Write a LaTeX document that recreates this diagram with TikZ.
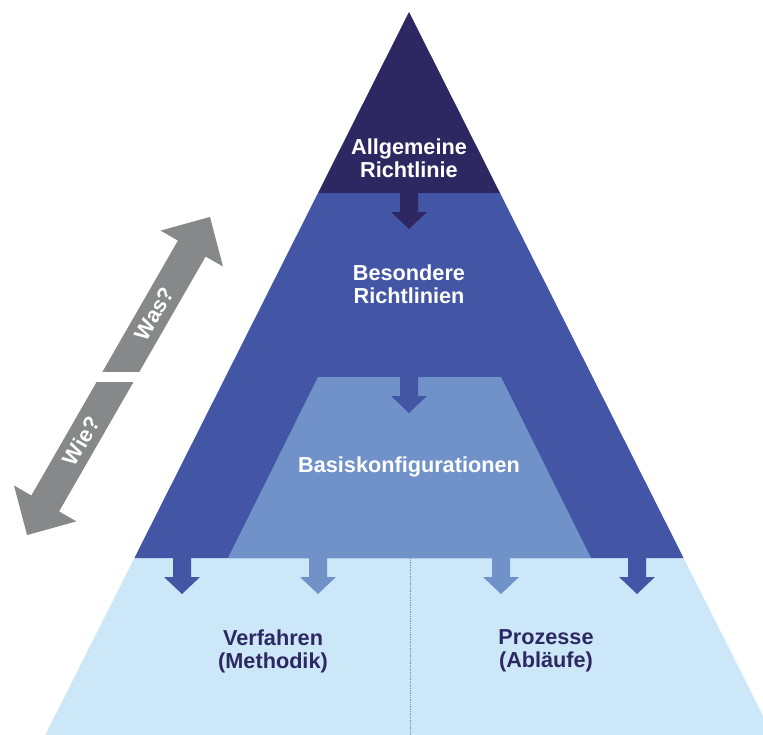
\documentclass[tikz,border=0pt]{standalone}
\usepackage{fontspec}
\setmainfont{Liberation Sans}
\definecolor{apex}{HTML}{2D2862}
\definecolor{band}{HTML}{4356A5}
\definecolor{basis}{HTML}{7092C9}
\definecolor{ground}{HTML}{CCE7F8}
\definecolor{arrowgray}{HTML}{87888A}
% block arrow pointing down: colour, x, top y
\newcommand{\blockarrow}[3]{%
	\fill [#1] (#2-9,#3) -- (#2+9,#3) -- (#2+9,#3+19) -- (#2+18,#3+19) -- (#2,#3+36) -- (#2-18,#3+19) -- (#2-9,#3+19) -- cycle;}
\begin{document}
\begin{tikzpicture}[x=0.03cm, y=-0.03cm, font=\bfseries\fontsize{18.5}{19.6}\selectfont]
		\useasboundingbox (0,0) rectangle (763,735);
		\clip (0,0) rectangle (763,735);
		% layers of the pyramid
		\fill [ground] (134.4,558) -- (683.6,558) -- (772.7,735) -- (45.3,735) -- cycle;
		\fill [band] (318,193) -- (500,193) -- (683.6,558) -- (134.4,558) -- cycle;
		\fill [apex] (409,12) -- (500,193) -- (318,193) -- cycle;
		\fill [basis] (318,377) -- (501,377) -- (591,558) -- (228,558) -- cycle;
		\draw [basis, densely dotted, line width=.5pt] (410,558) -- (410,735);
		% arrows between the layers
		\blockarrow{apex}{409}{193}
		\blockarrow{band}{409}{377}
		\foreach \x in {182, 637} {
			\blockarrow{band}{\x}{558}
		}
		\foreach \x in {318, 501} {
			\blockarrow{basis}{\x}{558}
		}
		\node [white, align=center] (allg) at (409,158) {Allgemeine\\Richtlinie};
		\node [white, align=center] (bes) at (409,284) {Besondere\\Richtlinien};
		\node [white] (basis) at (409,467) {Basiskonfigurationen};
		\node [apex, align=center] (verf) at (273,651) {Verfahren\\(Methodik)};
		\node [apex, align=center] (proz) at (546,651) {Prozesse\\(Abläufe)};
		% was / wie arrow
		\begin{scope}[shift={(118.5,376)}, rotate=60.1]
			\fill [arrowgray] (-183.5,0) -- (-147,-36) -- (-147,-16) -- (147,-16) -- (147,-36) -- (183.5,0) -- (147,36) -- (147,16) -- (-147,16) -- (-147,36) -- cycle;
			\node [white, transform shape] (was) at (72,0) {Was?};
			\node [white, transform shape] (wie) at (-75,0) {Wie?};
		\end{scope}
		\fill [white] (80,372) rectangle (145,382);
	\end{tikzpicture}
\end{document}
